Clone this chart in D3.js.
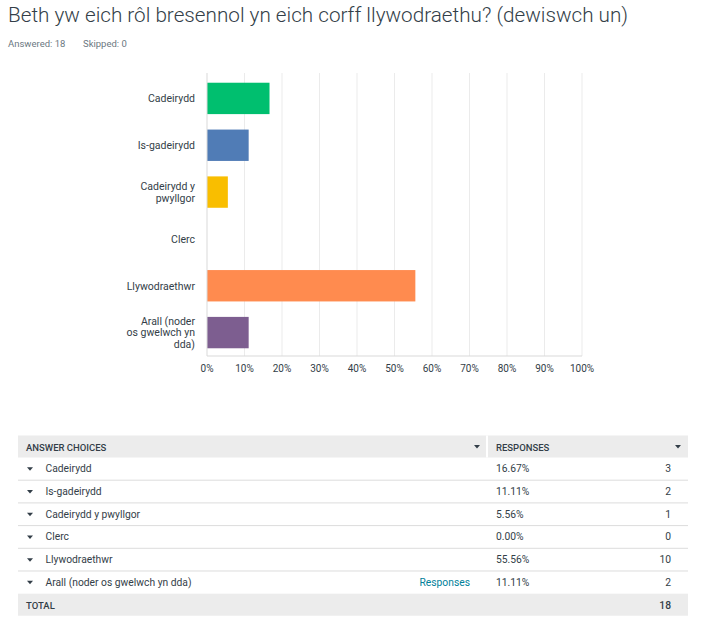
<!DOCTYPE html>
<html>
<head>
<meta charset="utf-8">
<script src="https://cdn.jsdelivr.net/npm/d3@7"></script>
<style>
  body { margin: 0; background: #fff; font-family: Roboto, "Noto Sans", sans-serif; }
</style>
</head>
<body>
<div id="container"></div>
<script>
/* DATA */
const categories = ["Cadeirydd", "Is-gadeirydd", "Cadeirydd y pwyllgor", "Clerc", "Llywodraethwr", "Arall (noder os gwelwch yn dda)"];
const chartLabels = [["Cadeirydd"], ["Is-gadeirydd"], ["Cadeirydd y", "pwyllgor"], ["Clerc"], ["Llywodraethwr"], ["Arall (noder", "os gwelwch yn", "dda)"]];
const percents = [16.67, 11.11, 5.56, 0.00, 55.56, 11.11];
const counts = [3, 2, 1, 0, 10, 2];
const barColors = ["#00bf6f", "#507cb6", "#f9be00", "#6bc8cd", "#ff8b4f", "#7d5e90"];
const xTicks = [0, 10, 20, 30, 40, 50, 60, 70, 80, 90, 100];
const answered = 18, skipped = 0, total = 18;

const width = 707, height = 634;

const svg = d3.select("#container")
  .append("svg")
  .attr("width", width)
  .attr("height", height);

// title + summary
svg.append("text")
  .attr("x", 8).attr("y", 22)
  .attr("font-size", 20.7).attr("font-weight", 300)
  .attr("fill", "#333e48")
  .text("Beth yw eich rôl bresennol yn eich corff llywodraethu? (dewiswch un)");

svg.append("text")
  .attr("x", 8).attr("y", 47)
  .attr("font-size", 9.5).attr("fill", "#6b787f")
  .text(`Answered: ${answered}`);
svg.append("text")
  .attr("x", 83).attr("y", 47)
  .attr("font-size", 9.5).attr("fill", "#6b787f")
  .text(`Skipped: ${skipped}`);

/* SCALES */
const xScale = d3.scaleLinear().domain([0, 100]).range([207, 582]);
const yScale = d3.scaleBand()
  .domain(categories)
  .range([75, 356])
  .paddingInner(0.33)
  .paddingOuter(0.165);

// gridlines
svg.append("g")
  .selectAll("line")
  .data(xTicks.slice(1))
  .join("line")
  .attr("x1", d => xScale(d)).attr("x2", d => xScale(d))
  .attr("y1", 73).attr("y2", 356)
  .attr("stroke", "#ebebeb");

// bars
svg.append("g")
  .selectAll("rect")
  .data(categories)
  .join("rect")
  .attr("x", xScale(0))
  .attr("y", d => yScale(d))
  .attr("width", (d, i) => xScale(percents[i]) - xScale(0))
  .attr("height", yScale.bandwidth())
  .attr("fill", (d, i) => barColors[i]);

// axes lines
svg.append("line")
  .attr("x1", xScale(0)).attr("x2", xScale(0))
  .attr("y1", 73).attr("y2", 356)
  .attr("stroke", "#d9d9d9");
svg.append("line")
  .attr("x1", xScale(0)).attr("x2", xScale(100))
  .attr("y1", 356).attr("y2", 356)
  .attr("stroke", "#d9d9d9");

// x tick labels
svg.append("g")
  .selectAll("text")
  .data(xTicks)
  .join("text")
  .attr("x", d => xScale(d))
  .attr("y", 372)
  .attr("text-anchor", "middle")
  .attr("font-size", 10)
  .attr("fill", "#333e48")
  .text(d => d + "%");

// category labels (wrapped)
const lineH = 11.5;
svg.append("g")
  .selectAll("text")
  .data(categories)
  .join("text")
  .attr("text-anchor", "end")
  .attr("font-size", 10.5)
  .attr("fill", "#333e48")
  .each(function (d, i) {
    const lines = chartLabels[i];
    const cy = yScale(d) + yScale.bandwidth() / 2;
    const y0 = cy - (lines.length - 1) * lineH / 2 + 3.8;
    d3.select(this).selectAll("tspan")
      .data(lines)
      .join("tspan")
      .attr("x", 195)
      .attr("y", (l, j) => y0 + j * lineH)
      .text(l => l);
  });

/* TABLE */
const tLeft = 18, tRight = 688, colSplit = 487;
const headTop = 435.5, headH = 22, rowH = 22.7;
const rowsTop = headTop + headH;

const tri = (g, x, y) => g.append("path")
  .attr("d", `M${x - 3},${y - 1.5} L${x + 3},${y - 1.5} L${x},${y + 2} Z`)
  .attr("fill", "#333e48");

const table = svg.append("g");

// header
table.append("rect")
  .attr("x", tLeft).attr("y", headTop)
  .attr("width", tRight - tLeft).attr("height", headH)
  .attr("fill", "#ececec");
table.append("rect")
  .attr("x", colSplit - 1).attr("y", headTop)
  .attr("width", 2).attr("height", headH)
  .attr("fill", "#fff");
table.append("text")
  .attr("x", 26).attr("y", headTop + 15)
  .attr("font-size", 9.5).attr("font-weight", 500).attr("fill", "#333e48")
  .text("ANSWER CHOICES");
table.append("text")
  .attr("x", 496).attr("y", headTop + 15)
  .attr("font-size", 9.5).attr("font-weight", 500).attr("fill", "#333e48")
  .text("RESPONSES");
tri(table, 477, headTop + 11);
tri(table, 678, headTop + 11);

// rows
const rows = table.selectAll("g.row")
  .data(categories)
  .join("g")
  .attr("class", "row")
  .attr("transform", (d, i) => `translate(0,${rowsTop + i * rowH})`);

rows.filter((d, i) => i < categories.length - 1)
  .append("line")
  .attr("x1", tLeft).attr("x2", tRight)
  .attr("y1", rowH).attr("y2", rowH)
  .attr("stroke", "#dcdcdc");

rows.each(function () { tri(d3.select(this), 30, rowH / 2); });

rows.append("text")
  .attr("x", 45.5).attr("y", rowH / 2 + 3.5)
  .attr("font-size", 10.3).attr("fill", "#333e48")
  .text(d => d);

rows.append("text")
  .attr("x", 496).attr("y", rowH / 2 + 3.5)
  .attr("font-size", 10.3).attr("fill", "#333e48")
  .text((d, i) => percents[i].toFixed(2) + "%");

rows.append("text")
  .attr("x", 671).attr("y", rowH / 2 + 3.5)
  .attr("text-anchor", "end")
  .attr("font-size", 10.3).attr("fill", "#333e48")
  .text((d, i) => counts[i]);

rows.filter((d, i) => i === categories.length - 1)
  .append("text")
  .attr("x", 470).attr("y", rowH / 2 + 3.5)
  .attr("text-anchor", "end")
  .attr("font-size", 10.3).attr("fill", "#00819a")
  .text("Responses");

// total
const totalTop = rowsTop + categories.length * rowH;
table.append("rect")
  .attr("x", tLeft).attr("y", totalTop)
  .attr("width", tRight - tLeft).attr("height", headH)
  .attr("fill", "#ececec");
table.append("text")
  .attr("x", 26).attr("y", totalTop + 15)
  .attr("font-size", 9.5).attr("font-weight", 500).attr("fill", "#333e48")
  .text("TOTAL");
table.append("text")
  .attr("x", 671).attr("y", totalTop + 15)
  .attr("text-anchor", "end")
  .attr("font-size", 10.3).attr("font-weight", 500).attr("fill", "#333e48")
  .text(total);
</script>
</body>
</html>
